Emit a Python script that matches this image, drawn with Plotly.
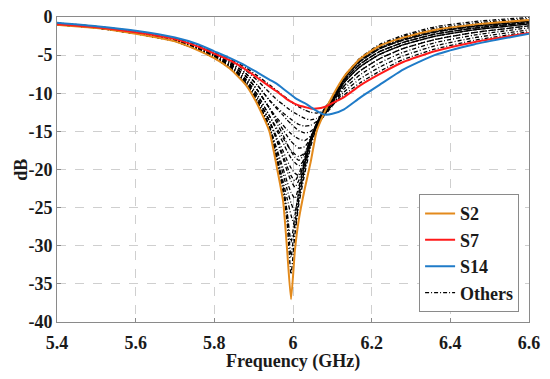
import plotly.graph_objects as go

# Frequency grid (GHz)
freq_ghz = [5.40, 5.50, 5.60, 5.70, 5.76, 5.80, 5.84, 5.88, 5.91, 5.94,
            5.96, 5.975, 5.985, 5.995, 6.005, 6.015, 6.03, 6.045, 6.06, 6.08,
            6.10, 6.13, 6.17, 6.22, 6.28, 6.36, 6.46, 6.60]

s2_db = [-1.0, -1.45, -2.2, -3.2, -4.4, -5.4, -6.8, -8.9, -11.5, -15.0,
         -20.0, -24.2, -30.5, -37.0, -30.5, -26.5, -22.5, -19.0, -15.0, -12.5,
         -10.4, -7.8, -5.5, -3.8, -2.7, -1.7, -1.0, -0.4]

s7_db = [-0.95, -1.35, -2.0, -2.9, -3.9, -4.8, -5.7, -6.9, -8.0, -9.1,
         -9.8, -10.4, -10.8, -11.1, -11.4, -11.6, -11.8, -12.0, -12.0, -11.8,
         -11.3, -10.5, -9.0, -7.5, -5.9, -4.5, -3.3, -2.1]

s14_db = [-0.75, -1.2, -1.8, -2.7, -3.6, -4.5, -5.4, -6.4, -7.3, -8.2,
          -8.8, -9.4, -9.8, -10.2, -10.6, -10.9, -11.3, -11.8, -12.3, -12.8,
          -12.7, -12.1, -10.6, -8.9, -6.9, -5.0, -3.6, -2.2]

others_db = [
    [-0.78, -1.23, -1.84, -2.75, -3.68, -4.59, -5.54, -6.65, -7.72, -8.88,
     -9.7, -10.3, -10.7, -11.1, -11.5, -11.8, -12.2, -12.5, -12.6, -12.3,
     -11.6, -10.23, -8.65, -7.13, -5.58, -4.22, -3.07, -1.93],
    [-0.81, -1.26, -1.9, -2.83, -3.8, -4.73, -5.75, -7.03, -8.35, -9.9,
     -10.9, -11.5, -11.9, -12.3, -12.6, -12.9, -13.3, -13.5, -13.3, -12.6,
     -11.6, -9.83, -8.13, -6.58, -5.1, -3.8, -2.73, -1.68],
    [-0.85, -1.3, -1.96, -2.9, -3.92, -4.86, -5.96, -7.4, -8.98, -10.92,
     -11.9, -12.6, -13.0, -13.4, -13.8, -14.1, -14.3, -14.2, -13.7, -12.7,
     -11.6, -9.42, -7.6, -6.02, -4.62, -3.38, -2.38, -1.42],
    [-0.85, -1.3, -1.96, -2.9, -3.92, -4.86, -5.96, -7.4, -8.98, -10.92,
     -12.1, -12.9, -13.5, -14.0, -14.5, -14.9, -15.2, -15.0, -14.2, -12.9,
     -11.7, -9.02, -7.08, -5.47, -4.14, -2.96, -2.04, -1.17],
    [-0.89, -1.34, -2.02, -2.98, -4.04, -5.0, -6.17, -7.78, -9.61, -11.94,
     -13.3, -14.2, -14.8, -15.3, -15.7, -16.0, -16.2, -15.6, -14.4, -12.8,
     -11.5, -8.61, -6.55, -4.91, -3.66, -2.54, -1.69, -0.91],
    [-0.89, -1.34, -2.02, -2.98, -4.04, -5.0, -6.17, -7.78, -9.61, -11.94,
     -13.6, -14.8, -15.6, -16.3, -16.8, -17.2, -17.0, -15.9, -14.4, -12.7,
     -11.2, -7.9, -5.5, -3.75, -2.55, -1.5, -0.8, -0.2],
    [-0.93, -1.38, -2.08, -3.05, -4.16, -5.13, -6.38, -8.15, -10.24, -12.96,
     -14.7, -15.9, -16.8, -17.5, -18.0, -18.3, -17.8, -16.2, -14.5, -12.8,
     -11.4, -8.34, -6.2, -4.54, -3.34, -2.26, -1.46, -0.74],
    [-0.93, -1.38, -2.08, -3.05, -4.16, -5.13, -6.38, -8.15, -10.24, -12.96,
     -15.0, -16.5, -17.6, -18.5, -19.1, -19.5, -18.6, -16.4, -14.4, -12.6,
     -11.2, -8.07, -5.85, -4.17, -3.02, -1.98, -1.23, -0.57],
    [-0.95, -1.4, -2.12, -3.1, -4.24, -5.22, -6.52, -8.4, -10.66, -13.64,
     -15.9, -17.6, -18.8, -19.8, -20.5, -20.8, -19.0, -16.3, -14.2, -12.4,
     -10.9, -7.8, -5.4, -3.6, -2.4, -1.3, -0.6, -0.05],
    [-0.95, -1.4, -2.12, -3.1, -4.24, -5.22, -6.52, -8.4, -10.66, -13.64,
     -16.4, -18.6, -20.2, -21.5, -22.3, -21.4, -18.6, -15.9, -14.0, -12.3,
     -11.0, -8.07, -5.85, -4.17, -3.02, -1.98, -1.23, -0.57],
    [-0.98, -1.43, -2.16, -3.15, -4.32, -5.31, -6.66, -8.65, -11.08, -14.32,
     -17.5, -19.9, -21.6, -23.0, -23.8, -22.2, -18.9, -16.0, -14.0, -12.2,
     -10.9, -8.34, -6.2, -4.54, -3.34, -2.26, -1.46, -0.74],
    [-0.98, -1.43, -2.16, -3.15, -4.32, -5.31, -6.66, -8.65, -11.08, -14.32,
     -17.8, -20.6, -22.6, -24.4, -25.5, -23.0, -19.2, -16.1, -13.9, -12.0,
     -10.6, -7.94, -5.68, -3.99, -2.86, -1.84, -1.12, -0.49],
    [-0.99, -1.44, -2.18, -3.18, -4.36, -5.36, -6.73, -8.78, -11.29, -14.66,
     -18.5, -21.6, -23.8, -26.0, -27.5, -24.0, -19.8, -16.5, -14.2, -12.3,
     -11.0, -8.61, -6.55, -4.91, -3.66, -2.54, -1.69, -0.91],
    [-0.99, -1.44, -2.18, -3.18, -4.36, -5.36, -6.73, -8.78, -11.29, -14.66,
     -18.8, -22.3, -25.5, -29.5, -26.0, -22.8, -19.2, -16.1, -13.9, -12.0,
     -10.7, -8.07, -5.85, -4.17, -3.02, -1.98, -1.23, -0.57],
    [-0.98, -1.43, -2.16, -3.15, -4.32, -5.31, -6.66, -8.65, -11.08, -14.32,
     -18.6, -22.2, -25.8, -31.5, -27.0, -23.6, -19.8, -16.6, -14.3, -12.4,
     -11.1, -9.02, -7.08, -5.47, -4.14, -2.96, -2.04, -1.17],
    [-0.99, -1.44, -2.18, -3.18, -4.36, -5.36, -6.73, -8.78, -11.29, -14.66,
     -19.2, -23.0, -27.0, -33.7, -28.5, -24.5, -20.5, -17.0, -14.5, -12.3,
     -10.9, -8.34, -6.2, -4.54, -3.34, -2.26, -1.46, -0.74],
    [-0.95, -1.4, -2.12, -3.1, -4.24, -5.22, -6.52, -8.4, -10.66, -13.64,
     -16.2, -18.2, -19.6, -20.8, -21.5, -20.6, -18.2, -15.8, -14.0, -12.4,
     -11.1, -8.61, -6.55, -4.91, -3.66, -2.54, -1.69, -0.91],
    [-0.89, -1.34, -2.02, -2.98, -4.04, -5.0, -6.17, -7.78, -9.61, -11.94,
     -14.0, -15.5, -16.6, -17.6, -18.4, -18.8, -17.9, -16.0, -14.2, -12.5,
     -11.1, -7.94, -5.68, -3.99, -2.86, -1.84, -1.12, -0.49],
]

x_tick_vals = [5.4, 5.6, 5.8, 6.0, 6.2, 6.4, 6.6]
x_tick_text = ["5.4", "5.6", "5.8", "6", "6.2", "6.4", "6.6"]
y_tick_vals = [0, -5, -10, -15, -20, -25, -30, -35, -40]
y_tick_text = ["0", "-5", "-10", "-15", "-20", "-25", "-30", "-35", "-40"]

FONT = "Liberation Serif"
TXT = "#1a1a1a"

fig = go.Figure()

for i, ys in enumerate(others_db):
    fig.add_trace(go.Scatter(
        x=freq_ghz, y=ys, mode="lines", name="Others",
        line=dict(color="black", width=1.3, dash="4px,2px,1px,2px",
                  shape="spline", smoothing=0.5),
        showlegend=(i == 0), legendrank=4, hoverinfo="skip"))

fig.add_trace(go.Scatter(x=freq_ghz, y=s2_db, mode="lines", name="S2",
                         line=dict(color="#E38A1C", width=2, shape="spline", smoothing=0.5),
                         legendrank=1))
fig.add_trace(go.Scatter(x=freq_ghz, y=s7_db, mode="lines", name="S7",
                         line=dict(color="#FF1A1A", width=2, shape="spline", smoothing=0.5),
                         legendrank=2))
fig.add_trace(go.Scatter(x=freq_ghz, y=s14_db, mode="lines", name="S14",
                         line=dict(color="#1F7BC8", width=2, shape="spline", smoothing=0.5),
                         legendrank=3))

axis_common = dict(
    showgrid=True, gridcolor="#cfcfcf", griddash="dash", gridwidth=1,
    showline=True, linecolor="#8a8a8a", linewidth=1, mirror=True,
    ticks="inside", ticklen=4, tickcolor="#8a8a8a",
    zeroline=False, automargin=False, ticklabeloverflow="allow",
    tickfont=dict(family=FONT, size=18, color=TXT, weight="bold"),
)

fig.update_layout(
    width=550, height=379,
    margin=dict(l=49, r=29, t=9, b=65),
    paper_bgcolor="white", plot_bgcolor="white",
    showlegend=True,
    legend=dict(
        x=0.979, y=0.032, xanchor="right", yanchor="bottom",
        bgcolor="white", bordercolor="#8a8a8a", borderwidth=1,
        font=dict(family=FONT, size=18, color=TXT, weight="bold"),
        tracegroupgap=0, itemwidth=30,
    ),
    xaxis=dict(range=[5.4, 6.6], tickvals=x_tick_vals, ticktext=x_tick_text,
               ticklabelstandoff=4, **axis_common),
    yaxis=dict(range=[-40, 0], tickvals=y_tick_vals, ticktext=y_tick_text,
               **axis_common),
    annotations=[
        dict(text="Frequency (GHz)", xref="paper", yref="paper",
             x=0.5, y=-0.13, xanchor="center", yanchor="middle", showarrow=False,
             font=dict(family=FONT, size=18, color=TXT, weight="bold")),
        dict(text="dB", xref="paper", yref="paper", textangle=-90,
             x=-0.078, y=0.5, xanchor="center", yanchor="middle", showarrow=False,
             font=dict(family=FONT, size=18, color=TXT, weight="bold")),
    ],
)

fig.write_html("out.html")
